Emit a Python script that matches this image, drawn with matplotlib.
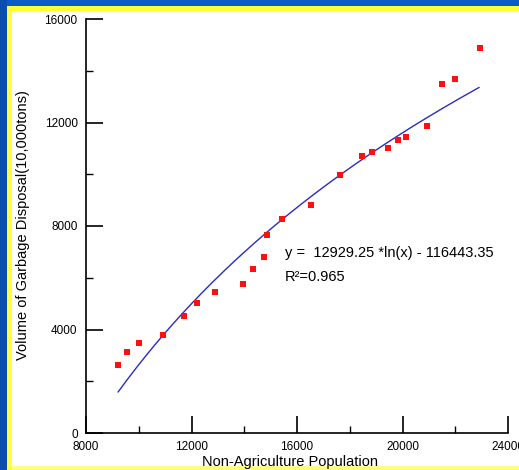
"""
Garbage disposal volume vs. non-agricultural population, with log fit.
"""
import matplotlib
matplotlib.use("Agg")
import matplotlib.pyplot as plt
import numpy as np
from matplotlib.patches import Rectangle

# ---------------------------------------------------------------------------
# Data
# ---------------------------------------------------------------------------
population = [9200, 9560, 10020, 10920, 11700, 12200, 12880, 13950, 14350,
              14740, 14880, 15420, 16520, 17630, 18450, 18860, 19440, 19830,
              20120, 20920, 21510, 21990, 22940]
garbage = [2630, 3140, 3490, 3790, 4520, 5040, 5440, 5770, 6330,
           6790, 7650, 8280, 8810, 9970, 10700, 10850, 11010, 11340,
           11450, 11850, 13500, 13680, 14880]

# fitted curve: y = a * ln(x) + b, as printed on the chart
fit_a = 12929.25
fit_b = -116443.35
fit_r2 = 0.965
fit_x_start = 9220
fit_x_end = 22900

x_ticks = [8000, 12000, 16000, 20000, 24000]
y_ticks = [0, 4000, 8000, 12000, 16000]

W, H = 519, 470
FONT = "Liberation Sans"


def px_rect(fig, x0, y0, x1, y1, color):
    """Rectangle given in pixel coords measured from the top-left corner."""
    fig.patches.append(Rectangle((x0 / W, 1 - y1 / H), (x1 - x0) / W, (y1 - y0) / H,
                                 transform=fig.transFigure, color=color,
                                 zorder=0, linewidth=0))


def main() -> None:
    plt.rcParams["font.family"] = [FONT, "DejaVu Sans"]
    fig = plt.figure(figsize=(W / 100, H / 100), dpi=100, facecolor="white")

    # frame of the slide
    px_rect(fig, 0, 0, W, 6, "#0a5cc2")
    px_rect(fig, 0, 0, 7, H, "#0a4fb0")
    px_rect(fig, 7, 6, W, 11, "#ffff33")
    px_rect(fig, 7, 6, 12, H, "#ffff40")
    px_rect(fig, 12, 466, W, H, "#ffff80")

    ax = fig.add_axes([86 / W, 1 - 433 / H, (508 - 86) / W, (433 - 19) / H])
    ax.set_facecolor("none")

    fit_x = np.linspace(fit_x_start, fit_x_end, 200)
    fit_y = fit_a * np.log(fit_x) + fit_b
    ax.plot(fit_x, fit_y, color="#2b2bc4", linewidth=1.0, zorder=2)
    ax.plot(population, garbage, linestyle="none", marker="s", markersize=4.5,
            color="#ff1010", markeredgewidth=0, zorder=3)

    ax.set_xlim(8000, 24000)
    ax.set_ylim(0, 16000)
    ax.set_xticks(x_ticks)
    ax.set_yticks(y_ticks)
    ax.set_xticks([10000, 14000, 18000, 22000], minor=True)
    ax.set_yticks([2000, 6000, 10000, 14000], minor=True)
    ax.tick_params(which="major", direction="in", length=12, width=1.2,
                   labelsize=8.5, pad=6)
    ax.tick_params(which="minor", direction="in", length=5, width=1.0)
    ax.spines["top"].set_visible(False)
    ax.spines["right"].set_visible(False)
    for side in ("left", "bottom"):
        ax.spines[side].set_linewidth(1.2)

    ax.text(15545, 6960, f"y =  {fit_a:.2f} *ln(x) - {abs(fit_b):.2f}",
            fontsize=10.5, va="center", ha="left")
    ax.text(15545, 6030, f"R\u00b2={fit_r2}", fontsize=10.5, va="center", ha="left")

    fig.text(23 / W, 1 - 225 / H, "Volume of Garbage Disposal(10,000tons)",
             rotation=90, fontsize=10.5, ha="center", va="center")
    fig.text(290 / W, 1 - 462 / H, "Non-Agriculture Population",
             fontsize=10.5, ha="center", va="center")

    fig.savefig("out.png", dpi=100, facecolor="white")
    plt.close(fig)


if __name__ == "__main__":
    main()
